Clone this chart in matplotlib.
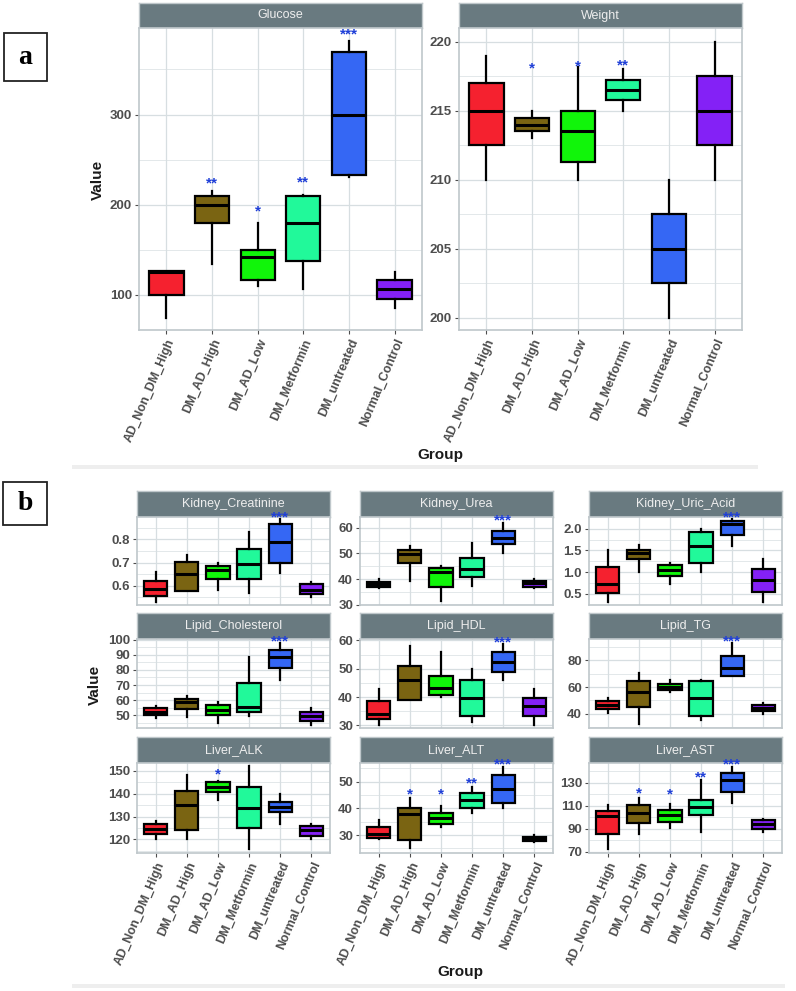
import numpy as np
import matplotlib
matplotlib.use('Agg')
import matplotlib.pyplot as plt
from matplotlib.patches import Rectangle

plt.rcParams['font.family'] = ['Liberation Sans', 'DejaVu Sans']

GROUPS = ['AD_Non_DM_High', 'DM_AD_High', 'DM_AD_Low', 'DM_Metformin',
          'DM_untreated', 'Normal_Control']
COLORS = ['#F5212F', '#7A6412', '#11F50A', '#21F99A', '#3567F4', '#8421F6']

# box stats per group: whisker low, q1, median, q3, whisker high
glucose = [[74, 100, 125, 126, 126], [134, 180, 200, 210, 215], [110, 116, 142, 150, 180],
           [106, 138, 180, 210, 211], [231, 233, 299, 369, 382], [85, 95, 106, 116, 125]]
glucose_stars = ['', '**', '*', '**', '***', '']
glucose_star_y = [0, 224, 193, 225, 389, 0]

weight = [[210, 212.5, 215, 217, 219], [213, 213.5, 214, 214.5, 215], [210, 211.25, 213.5, 215, 218.2],
          [215, 215.8, 216.5, 217.25, 218], [200, 202.5, 205, 207.5, 210], [210, 212.5, 215, 217.5, 220]]
weight_stars = ['', '*', '*', '**', '', '']
weight_star_y = [0, 218.1, 218.2, 218.3, 0, 0]

creatinine = [[0.531, 0.556, 0.584, 0.62, 0.66], [0.579, 0.579, 0.65, 0.703, 0.731],
              [0.581, 0.627, 0.667, 0.684, 0.699], [0.57, 0.631, 0.693, 0.759, 0.833],
              [0.653, 0.696, 0.787, 0.867, 0.886], [0.553, 0.564, 0.583, 0.606, 0.617]]
urea = [[36.4, 36.8, 38.0, 38.8, 40.1], [39.2, 46.1, 49.9, 51.2, 52.8], [31.4, 37.1, 42.6, 44.2, 45.1],
        [37.4, 41.0, 43.8, 48.1, 54.0], [50.2, 53.7, 56.2, 58.6, 62.0], [36.4, 37.1, 38.3, 39.3, 40.0]]
uric_acid = [[0.32, 0.51, 0.72, 1.11, 1.5], [1.0, 1.30, 1.43, 1.52, 1.62], [0.72, 0.90, 1.04, 1.16, 1.2],
             [1.0, 1.22, 1.6, 1.92, 2.0], [1.6, 1.85, 2.1, 2.17, 2.23], [0.32, 0.55, 0.81, 1.06, 1.31]]
cholesterol = [[48.2, 50.4, 52.2, 54.8, 56], [48.9, 54.4, 58.6, 61, 62.6], [44.9, 50.4, 53.7, 56.8, 58.6],
               [49.8, 52.2, 55.3, 71.4, 88.3], [73.1, 81, 88.3, 93, 97.8], [43.6, 46.5, 49.3, 52.2, 54.6]]
hdl = [[30.2, 32.1, 34.1, 38.5, 43], [39.1, 39.1, 46.1, 51, 57.9], [40, 40.9, 43.2, 47.6, 55.8],
       [31.1, 33.3, 39.6, 46.1, 49.8], [46.2, 49, 52.5, 55.9, 58.7], [30.1, 33.4, 36.8, 39.8, 43]]
tg = [[40.7, 43.7, 46.9, 49.9, 51.9], [32.6, 45.2, 56, 64.2, 70.4], [56, 58, 60, 62.2, 65.4],
      [35.8, 38.3, 51.9, 64.7, 65.4], [67.9, 67.9, 74.1, 83.2, 92.6], [40.2, 42, 44.4, 46.4, 48.1]]
alk = [[120, 122.3, 124.7, 126.6, 127.9], [120, 123.9, 134.9, 141.1, 148.1], [137.1, 140.8, 143, 145.2, 145.6],
       [115.9, 124.8, 133.9, 143.1, 152], [126.9, 132.1, 134.2, 136.4, 140], [120, 121.3, 123.9, 125.7, 126.9]]
alt = [[28.4, 29, 30.6, 32.9, 35.8], [25.3, 28.1, 37.8, 40, 43.8], [33.1, 34, 36.3, 38.2, 40.9],
       [38.2, 40.3, 43.1, 45.9, 48.1], [40, 42.1, 47.1, 52.5, 55.6], [27.3, 27.7, 28.5, 29.4, 29.9]]
ast = [[72.6, 85.7, 100.7, 105.4, 110.9], [85.7, 94.9, 103.6, 110.3, 117], [90.9, 95.8, 101.6, 105.9, 111.7],
       [87.1, 101.6, 108.8, 115.2, 132], [112.3, 121.9, 132.6, 138.7, 143.6], [87.1, 90, 93.8, 97.2, 98.7]]

only_untreated = ['', '', '', '', '***', '']
liver_stars = ['', '*', '*', '**', '***', '']

W, H = 796, 991
STRIP = '#697A80'
GRID = '#D7DEE1'
BORDER = '#BFC7CB'
TICK = '#4D4D4D'
STAR = '#1F3FD8'

fig = plt.figure(figsize=(W / 100, H / 100), dpi=100)


def frame(x0, y0, x1, y1):
    return [x0 / W, 1 - y1 / H, (x1 - x0) / W, (y1 - y0) / H]


def panel(x0, x1, ys, y0, y1, title, stats, ylim, yticks, minor, fmt, stars, star_y, show_x):
    # strip first so the stars of the panel can sit on top of it
    sax = fig.add_axes(frame(x0, ys, x1, y0))
    sax.set_facecolor(STRIP)
    sax.set_xticks([])
    sax.set_yticks([])
    for sp in sax.spines.values():
        sp.set_color(BORDER)
        sp.set_linewidth(1.0)
    sax.text(0.5, 0.5, title, ha='center', va='center', color='#EEEEEE', fontsize=9,
             transform=sax.transAxes)

    ax = fig.add_axes(frame(x0, y0, x1, y1))
    pos = np.arange(1, len(GROUPS) + 1)
    bstats = [dict(whislo=s[0], q1=s[1], med=s[2], q3=s[3], whishi=s[4], fliers=[]) for s in stats]
    art = ax.bxp(bstats, positions=pos, widths=0.75, patch_artist=True, showcaps=False,
                 boxprops=dict(linewidth=1.6, edgecolor='black'),
                 whiskerprops=dict(linewidth=1.6, color='black'),
                 medianprops=dict(linewidth=2.2, color='black'))
    for patch, c in zip(art['boxes'], COLORS):
        patch.set_facecolor(c)
    for p, s, y in zip(pos, stars, star_y):
        if s:
            ax.text(p, y, s, ha='center', va='center', color=STAR, fontsize=11,
                    fontweight='bold', clip_on=False, zorder=5)
    ax.set_xlim(0.4, 6.6)
    ax.set_ylim(*ylim)
    ax.set_yticks(yticks)
    ax.set_yticks(minor, minor=True)
    ax.set_yticklabels([fmt % t for t in yticks])
    ax.set_xticks(pos)
    ax.grid(True, which='major', color=GRID, linewidth=0.9)
    ax.grid(True, which='minor', axis='y', color=GRID, linewidth=0.5)
    ax.set_axisbelow(True)
    for sp in ax.spines.values():
        sp.set_color(BORDER)
        sp.set_linewidth(1.2)
    ax.tick_params(axis='y', which='major', length=3, color=TICK, labelsize=9.5, labelcolor=TICK, pad=2)
    ax.tick_params(axis='y', which='minor', length=0)
    for lab in ax.get_yticklabels():
        lab.set_fontweight('bold')
    if show_x:
        ax.tick_params(axis='x', length=3, color=TICK, labelsize=9, labelcolor=TICK, pad=2)
        ax.set_xticklabels(GROUPS, rotation=67, ha='right', va='top', rotation_mode='anchor',
                           fontweight='bold')
    else:
        ax.tick_params(axis='x', length=0, labelbottom=False)
    return ax


# panel a
panel(139, 422, 3, 28, 330, 'Glucose', glucose, (61, 396), [100, 200, 300], [150, 250, 350], '%d',
      glucose_stars, glucose_star_y, True)
panel(459, 742, 3, 28, 330, 'Weight', weight, (199.1, 221), [200, 205, 210, 215, 220],
      [202.5, 207.5, 212.5, 217.5], '%d', weight_stars, weight_star_y, True)

# panel b
cols = [(137, 330), (360, 553), (589, 782)]
rows = [(491, 517, 605), (613, 639, 728), (737, 763, 853)]
facets = [
    ('Kidney_Creatinine', creatinine, (0.517, 0.896), [0.6, 0.7, 0.8], [0.55, 0.65, 0.75, 0.85], '%.1f',
     only_untreated, [0, 0, 0, 0, 0.895, 0]),
    ('Kidney_Urea', urea, (29.9, 64.2), [30, 40, 50, 60], [35, 45, 55], '%d',
     only_untreated, [0, 0, 0, 0, 63.0, 0]),
    ('Kidney_Uric_Acid', uric_acid, (0.24, 2.27), [0.5, 1.0, 1.5, 2.0], [0.75, 1.25, 1.75], '%.1f',
     only_untreated, [0, 0, 0, 0, 2.26, 0]),
    ('Lipid_Cholesterol', cholesterol, (41.6, 100.4), [50, 60, 70, 80, 90, 100],
     [45, 55, 65, 75, 85, 95], '%d', only_untreated, [0, 0, 0, 0, 98.9, 0]),
    ('Lipid_HDL', hdl, (29.1, 60.5), [30, 40, 50, 60], [35, 45, 55], '%d',
     only_untreated, [0, 0, 0, 0, 59.3, 0]),
    ('Lipid_TG', tg, (29.6, 95.6), [40, 60, 80], [30, 50, 70, 90], '%d',
     only_untreated, [0, 0, 0, 0, 93.8, 0]),
    ('Liver_ALK', alk, (114, 153.5), [120, 130, 140, 150], [115, 125, 135, 145], '%d',
     ['', '', '*', '', '', ''], [0, 0, 148.4, 0, 0, 0]),
    ('Liver_ALT', alt, (23.3, 57), [30, 40, 50], [25, 35, 45, 55], '%d',
     liver_stars, [0, 45.4, 45.4, 49.4, 56.6, 0]),
    ('Liver_AST', ast, (68.8, 147.1), [70, 90, 110, 130], [80, 100, 120, 140], '%d',
     liver_stars, [0, 120.4, 119.9, 134.3, 146, 0]),
]
for i, (title, stats, ylim, yt, mn, fmt, st, sy) in enumerate(facets):
    r, c = divmod(i, 3)
    ys, y0, y1 = rows[r]
    x0, x1 = cols[c]
    panel(x0, x1, ys, y0, y1, title, stats, ylim, yt, mn, fmt, st, sy, r == 2)

# axis titles
fig.text(98 / W, 1 - 180 / H, 'Value', rotation=90, ha='center', va='center',
         fontsize=11, fontweight='bold', color='#1A1A1A')
fig.text(95 / W, 1 - 685 / H, 'Value', rotation=90, ha='center', va='center',
         fontsize=11, fontweight='bold', color='#1A1A1A')
fig.text(440 / W, 1 - 455 / H, 'Group', ha='center', va='center',
         fontsize=11, fontweight='bold', color='#1A1A1A')
fig.text(460 / W, 1 - 972 / H, 'Group', ha='center', va='center',
         fontsize=11, fontweight='bold', color='#1A1A1A')

# separator bands
fig.add_artist(Rectangle((72 / W, 1 - 469 / H), (758 - 72) / W, 4 / H, color='#EEEEEE', lw=0))
fig.add_artist(Rectangle((72 / W, 1 - 988 / H), (785 - 72) / W, 4 / H, color='#EEEEEE', lw=0))

# panel letters
for letter, (lx0, ly0, lx1, ly1) in [('a', (4, 33, 47, 81)), ('b', (3, 482, 47, 525))]:
    fig.add_artist(Rectangle((lx0 / W, 1 - ly1 / H), (lx1 - lx0) / W, (ly1 - ly0) / H,
                             facecolor='white', edgecolor='#222222', lw=1.3))
    fig.text((lx0 + lx1) / 2 / W, 1 - (ly0 + ly1) / 2 / H, letter, ha='center', va='center',
             fontsize=20, fontweight='bold', family='Liberation Serif', color='black')

fig.savefig('out.png', dpi=100)
